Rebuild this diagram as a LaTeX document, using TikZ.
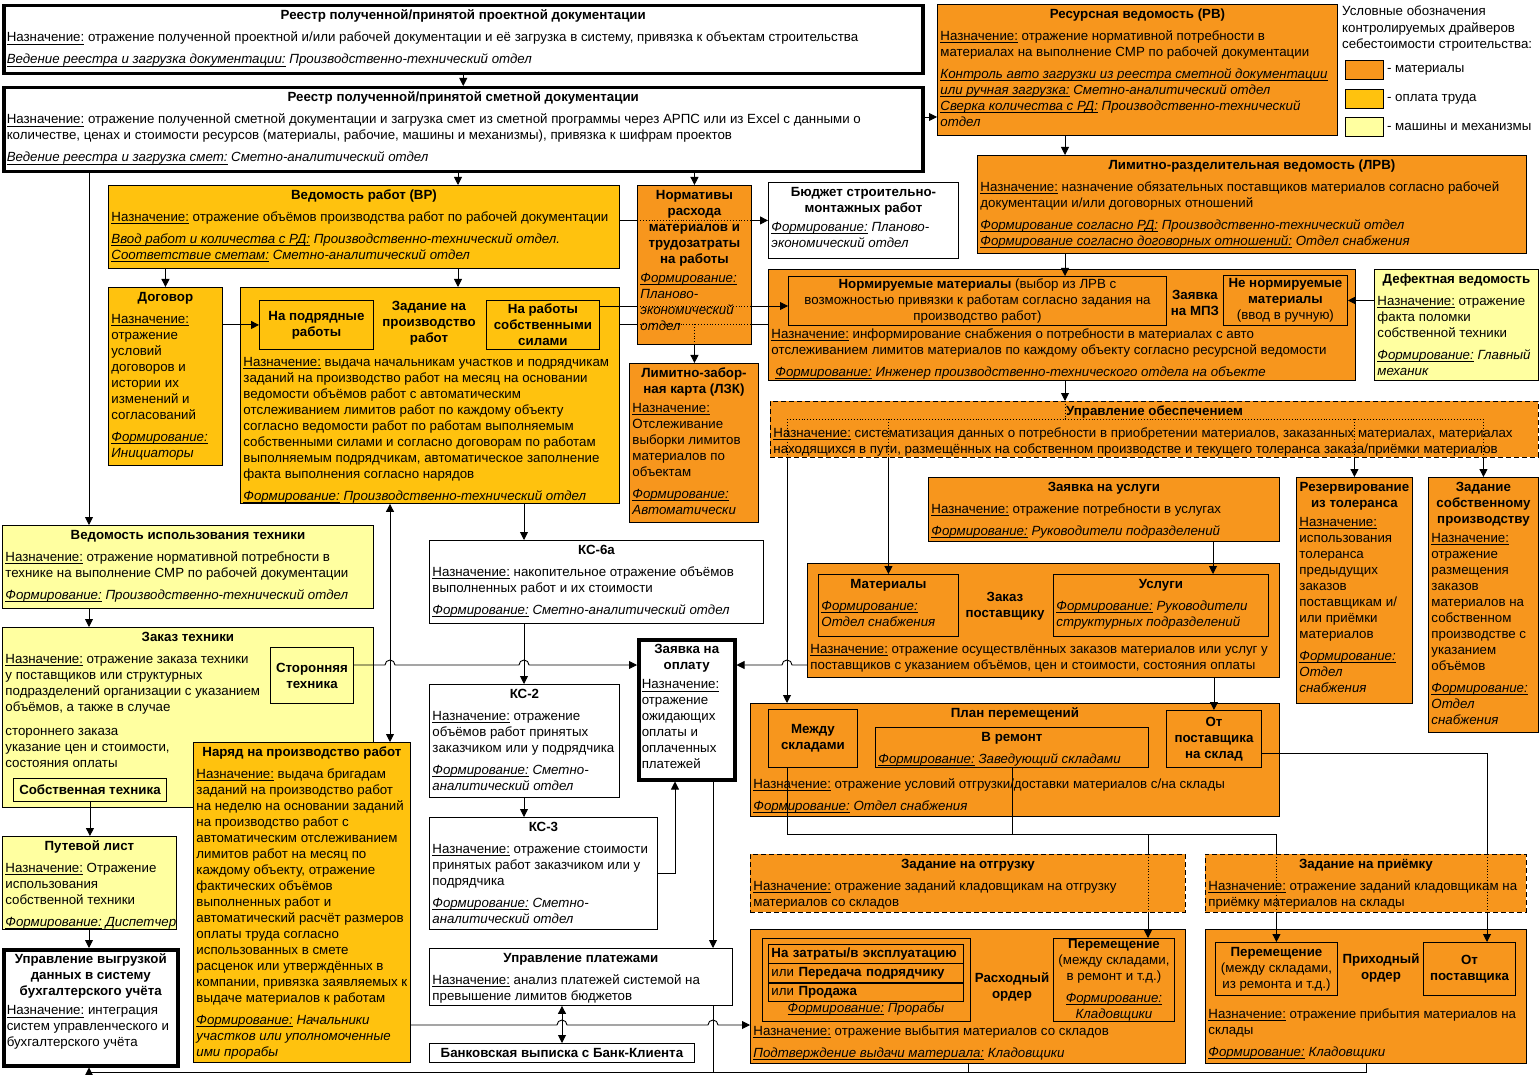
\documentclass[tikz,border=0pt]{standalone}
\usepackage{fontspec}
\setmainfont{Liberation Sans}
\usetikzlibrary{arrows.meta,calc,positioning}
\definecolor{cmat}{HTML}{F7961D}
\definecolor{cpay}{HTML}{FFC20E}
\definecolor{cmach}{HTML}{FFFFA0}
\newlength\bw
\newcommand\fs{\fontsize{13.3}{16}\selectfont}
\newcommand\ulx[1]{\leavevmode\setbox0\hbox{#1}\rlap{\rule[-2.4pt]{\wd0}{0.6pt}}\box0\relax}
\newcommand\bx[3]{\setlength\bw{\dimexpr#1pt-6pt\relax}\makebox[\bw][l]{\parbox[t][\dimexpr#2pt-6pt\relax][t]{\dimexpr\bw+40pt\relax}{\raggedright#3}}}
\newcommand\ttl[1]{\strut\parbox[t]{\bw}{\centering\bfseries#1}\par\vspace{6pt}}
\newcommand\sk{\par\vspace{6pt}}
\newcommand\nz{\ulx{Назначение:}}
\newcommand\fr[1]{{\itshape\ulx{Формирование:} #1}}
\newcommand\il[2]{{\itshape\ulx{#1} #2}}
\begin{document}
\begin{tikzpicture}[x=1pt, y=1pt, every node/.style={font=\fs},
  bx/.style={draw, line width=0.9pt, anchor=north west, inner sep=3pt},
  mat/.style={bx, fill=cmat}, pay/.style={bx, fill=cpay},
  mach/.style={bx, fill=cmach}, doc/.style={bx, fill=white},
  thk/.style={doc, line width=3.5pt},
  dsh/.style={mat, dash pattern=on 5pt off 3pt},
  sub/.style={draw, line width=0.9pt, anchor=north west, align=center, inner sep=0pt},
  subb/.style={sub, font=\fs\bfseries},
  lbl/.style={align=center, inner sep=0pt, font=\fs\bfseries},
  ln/.style={line width=0.9pt}, dot/.style={ln, dotted},
  arr/.style={ln, -{Triangle[length=8pt,width=8pt]}},
  darr/.style={ln, {Triangle[length=8pt,width=8pt]}-{Triangle[length=8pt,width=8pt]}}]

\useasboundingbox (0,0) rectangle (1540,-1075);

\path
  (89,0) coordinate (v_0)
  (458,0) coordinate (v_1)
  (1065,0) coordinate (v_2)
  (787,0) coordinate (v_3)
  (1213,0) coordinate (v_4)
  (390,0) coordinate (v_5)
  (524,0) coordinate (v_6)
  (675,0) coordinate (v_7)
  (713,0) coordinate (v_8)
  (562,0) coordinate (v_9)
  (1148,0) coordinate (v_10)
  (1487,0) coordinate (v_11)
  (0,-117) coordinate (h_1)
  (0,-306) coordinate (h_2)
  (0,-324) coordinate (h_3)
  (0,-419) coordinate (h_4)
  (0,-665) coordinate (h_5)
  (0,-1025) coordinate (h_6)
  (0,-1072) coordinate (h_7)
  (0,-834) coordinate (h_8)
  (0,-753) coordinate (h_9)
;

\node[thk] (rpd) at (2,-4) {\bx{919}{68}{\ttl{Реестр полученной/принятой проектной документации}\nz{} отражение полученной проектной и/или рабочей документации и её загрузка в систему, привязка к объектам строительства\sk\il{Ведение реестра и загрузка документации:}{Производственно-технический отдел}}};
\node[thk] (rsd) at (2,-86) {\bx{919}{84}{\ttl{Реестр полученной/принятой сметной документации}\nz{} отражение полученной сметной документации и загрузка смет из сметной программы через АРПС или из Excel с данными о\\количестве, ценах и стоимости ресурсов (материалы, рабочие, машины и механизмы), привязка к шифрам проектов\sk\il{Ведение реестра и загрузка смет:}{Сметно-аналитический отдел}}};
\node[mat] (rv) at (937,-4) {\bx{400}{131}{\ttl{Ресурсная ведомость (РВ)}\nz{} отражение нормативной потребности в\\материалах на выполнение СМР по рабочей документации\sk{\itshape\ulx{Контроль авто загрузки из реестра сметной документации}\\\ulx{или ручная загрузка:} Сметно-аналитический отдел\\\ulx{Сверка количества с РД:} Производственно-технический\\отдел}}};
\node[mat] (lrv) at (977,-155) {\bx{549}{98}{\ttl{Лимитно-разделительная ведомость (ЛРВ)}\nz{} назначение обязательных поставщиков материалов согласно рабочей\\документации и/или договорных отношений\sk\il{Формирование согласно РД:}{Производственно-технический отдел}\\\il{Формирование согласно договорных отношений:}{Отдел снабжения}}};

\node[inner sep=0pt, anchor=north west, align=left] (lg) at (1342,-6) {Условные обозначения\\[0.5pt]контролируемых драйверов\\[0.5pt]себестоимости строительства:};
\node[mat, minimum width=38pt, minimum height=19pt, inner sep=0pt] (sw_1) at (1345,-60) {};
\node[pay, minimum width=38pt, minimum height=19pt, inner sep=0pt] (sw_2) at (1345,-89) {};
\node[mach, minimum width=38pt, minimum height=19pt, inner sep=0pt] (sw_3) at (1345,-117) {};
\node[right=3pt of sw_1, inner sep=0pt] (lg_1) {- материалы};
\node[right=3pt of sw_2, inner sep=0pt] (lg_2) {- оплата труда};
\node[right=3pt of sw_3, inner sep=0pt] (lg_3) {- машины и механизмы};

\node[pay] (vr) at (108,-185) {\bx{511}{83}{\ttl{Ведомость работ (ВР)}\nz{} отражение объёмов производства работ по рабочей документации\sk\il{Ввод работ и количества с РД:}{Производственно-технический отдел.}\\\il{Соответствие сметам:}{Сметно-аналитический отдел}}};
\node[mat] (norm) at (637,-185) {\bx{114}{159}{\ttl{Нормативы\\расхода\\материалов и\\трудозатраты\\на работы}\fr{\\Планово-\\экономический\\отдел}}};
\node[doc] (bud) at (768,-182) {\bx{190}{76}{\ttl{Бюджет строительно-\\монтажных работ}\fr{Планово-\\экономический отдел}}};
\node[pay] (dog) at (108,-287) {\bx{114}{178}{\ttl{Договор}\nz\\отражение\\условий\\договоров и\\истории их\\изменений и\\согласований\sk\fr{\\Инициаторы}}};
\node[pay] (zpr) at (240,-287) {\bx{379}{216}{\vspace*{64.8pt}\strut\nz{} выдача начальникам участков и подрядчикам\\заданий на производство работ на месяц на основании\\ведомости объёмов работ с автоматическим\\отслеживанием лимитов работ по каждому объекту\\согласно ведомости работ по работам выполняемым\\собственными силами и согласно договорам по работам\\выполняемым подрядчикам, автоматическое заполнение\\факта выполнения согласно нарядов\sk\fr{Производственно-технический отдел}}};
\node[subb, minimum width=114pt, minimum height=49pt] (zp1) at (259,-300) {На подрядные\\работы};
\node[subb, minimum width=113pt, minimum height=49pt] (zp2) at (486,-300) {На работы\\собственными\\силами};
\node[lbl] (lzp) at (429,-323) {Задание на\\производство\\работ};

\node[mat] (mpz) at (768,-269) {\bx{587}{111}{\vspace*{54.8pt}\strut\nz{} информирование снабжения о потребности в материалах с авто\\отслеживанием лимитов материалов по каждому объекту согласно ресурсной ведомости\sk\hspace*{4pt}\fr{Инженер производственно-технического отдела на объекте}}};
\node[sub, minimum width=378pt, minimum height=49pt] (nm) at (788,-276) {\textbf{Нормируемые материалы} (выбор из ЛРВ с\\возможностью привязки к работам согласно задания на\\производство работ)};
\node[sub, minimum width=124pt, minimum height=50pt] (nn) at (1223,-275) {\textbf{Не нормируемые}\\\textbf{материалы}\\(ввод в ручную)};
\node[lbl] (lmpz) at (1195,-303) {Заявка\\на МПЗ};
\node[mach] (def) at (1374,-269) {\bx{164}{111}{\ttl{Дефектная ведомость}\nz{} отражение\\факта поломки\\собственной техники\sk\fr{Главный\\механик}}};
\node[mat] (lzk) at (629,-363) {\bx{129}{159}{\ttl{Лимитно-забор-\\ная карта (ЛЗК)}\nz\\Отслеживание\\выборки лимитов\\материалов по\\объектам\sk\fr{\\Автоматически}}};
\node[dsh] (uob) at (770,-401) {\bx{768}{56}{\ttl{Управление обеспечением}\nz{} систематизация данных о потребности в приобретении материалов, заказанных материалах, материалах\\находящихся в пути, размещённых на собственном производстве и текущего толеранса заказа/приёмки материалов}};

\node[mach] (vit) at (2,-525) {\bx{371}{83}{\ttl{Ведомость использования техники}\nz{} отражение нормативной потребности в\\технике на выполнение СМР по рабочей документации\sk\fr{Производственно-технический отдел}}};
\node[mach] (zt) at (2,-627) {\bx{371}{180}{\ttl{Заказ техники}\nz{} отражение заказа техники\\у поставщиков или структурных\\подразделений организации с указанием\\объёмов, а также в случае\par\vspace{8pt}стороннего заказа\\указание цен и стоимости,\\состояния оплаты}};
\node[subb, minimum width=83pt, minimum height=56pt] (st) at (270,-647) {Сторонняя\\техника};
\node[subb, minimum width=153pt, minimum height=23pt] (sob) at (13,-778) {Собственная техника};
\node[mach] (pl) at (2,-836) {\bx{174}{93}{\ttl{Путевой лист}\nz{} Отражение\\использования\\собственной техники\sk\fr{Диспетчер}}};
\node[thk] (uvg) at (2,-948) {\bx{174}{116}{\ttl{Управление выгрузкой\\данных в систему\\бухгалтерского учёта}\nz{} интеграция\\систем управленческого и\\бухгалтерского учёта}};
\node[pay] (nar) at (193,-742) {\bx{217}{320}{\ttl{Наряд на производство работ}\nz{} выдача бригадам\\заданий на производство работ\\на неделю на основании заданий\\на производство работ с\\автоматическим отслеживанием\\лимитов работ на месяц по\\каждому объекту, отражение\\фактических объёмов\\выполненных работ и\\автоматический расчёт размеров\\оплаты труда согласно\\использованных в смете\\расценок или утверждённых в\\компании, привязка заявляемых к\\выдаче материалов к работам\sk\fr{Начальники\\участков или уполномоченные\\ими прорабы}}};

\node[doc] (ks6) at (429,-540) {\bx{334}{83}{\ttl{КС-6а}\nz{} накопительное отражение объёмов\\выполненных работ и их стоимости\sk\fr{Сметно-аналитический отдел}}};
\node[thk] (zo) at (637,-638) {\bx{96}{140}{\ttl{Заявка на\\оплату}\nz\\отражение\\ожидающих\\оплаты и\\оплаченных\\платежей}};
\node[doc] (ks2) at (429,-684) {\bx{190}{113}{\ttl{КС-2}\nz{} отражение\\объёмов работ принятых\\заказчиком или у подрядчика\sk\fr{Сметно-\\аналитический отдел}}};
\node[doc] (ks3) at (429,-817) {\bx{228}{112}{\ttl{КС-3}\nz{} отражение стоимости\\принятых работ заказчиком или у\\подрядчика\sk\fr{Сметно-\\аналитический отдел}}};
\node[doc] (upl) at (429,-948) {\bx{303}{57}{\ttl{Управление платежами}\nz{} анализ платежей системой на\\превышение лимитов бюджетов}};
\node[subb, fill=white, minimum width=265pt, minimum height=19pt] (bank) at (429,-1043) {Банковская выписка с Банк-Клиента};

\node[mat] (zu) at (928,-477) {\bx{351}{64}{\ttl{Заявка на услуги}\nz{} отражение потребности в услугах\sk\fr{Руководители подразделений}}};
\node[mat] (zps) at (807,-563) {\bx{472}{114}{\vspace*{75.8pt}\strut\nz{} отражение осуществлённых заказов материалов или услуг у\\поставщиков с указанием объёмов, цен и стоимости, состояния оплаты}};
\node[bx] (zm) at (818,-574) {\bx{140}{62}{\ttl{Материалы}\fr{\\Отдел снабжения}}};
\node[bx] (zus) at (1053,-574) {\bx{215}{62}{\ttl{Услуги}\fr{Руководители\\структурных подразделений}}};
\node[lbl] (lzps) at (1005,-606) {Заказ\\поставщику};
\node[mat] (rez) at (1296,-477) {\bx{116}{226}{\ttl{Резервирование\\из толеранса}\nz\\использования\\толеранса\\предыдущих\\заказов\\поставщикам и/\\или приёмки\\материалов\sk\fr{\\Отдел\\снабжения}}};
\node[mat] (zsp) at (1428,-477) {\bx{110}{255}{\ttl{Задание\\собственному\\производству}\nz\\отражение\\размещения\\заказов\\материалов на\\собственном\\производстве с\\указанием\\объёмов\sk\fr{\\Отдел\\снабжения}}};

\node[mat] (pp) at (750,-703) {\bx{529}{113}{\ttl{План перемещений}\vspace{49pt}\nz{} отражение условий отгрузки/доставки материалов с/на склады\sk\fr{Отдел снабжения}}};
\node[subb, minimum width=89pt, minimum height=58pt] (ms) at (768,-709) {Между\\складами};
\node[bx] (vrem) at (875,-727) {\bx{273}{40}{\ttl{В ремонт}\fr{Заведующий складами}}};
\node[subb, minimum width=95pt, minimum height=57pt] (ops) at (1166,-710) {От\\поставщика\\на склад};
\node[dsh] (zot) at (750,-854) {\bx{435}{58}{\ttl{Задание на отгрузку}\nz{} отражение заданий кладовщикам на отгрузку\\материалов со складов}};
\node[dsh] (zpm) at (1205,-854) {\bx{321}{58}{\ttl{Задание на приёмку}\nz{} отражение заданий кладовщикам на\\приёмку материалов на склады}};

\node[mat] (rord) at (750,-929) {\bx{435}{134}{\vspace*{91.8pt}\strut\nz{} отражение выбытия материалов со складов\sk\il{Подтверждение выдачи материала:}{Кладовщики}}};
\node[sub, minimum width=208pt, minimum height=83pt] (ro1) at (762,-938) {};
\node[sub, align=left, text width=189pt, inner xsep=3pt, minimum height=18.5pt] (r_1) at (768,-944) {\textbf{На затраты/в эксплуатацию}};
\node[sub, align=left, text width=189pt, inner xsep=3pt, minimum height=18.5pt] (r_2) at (r_1.south west) {или \textbf{Передача подрядчику}};
\node[sub, align=left, text width=189pt, inner xsep=3pt, minimum height=18.5pt] (r_3) at (r_2.south west) {или \textbf{Продажа}};
\node[inner sep=0pt] (rf) at (866,-1009) {\fr{Прорабы}};
\node[sub, minimum width=121pt, minimum height=83pt] (ro2) at (1053,-938) {\textbf{Перемещение}\\(между складами,\\в ремонт и т.д.)\\[6pt]{\itshape\ulx{Формирование:}}\\{\itshape Кладовщики}};
\node[lbl] (lro) at (1012,-987) {Расходный\\ордер};
\node[mat] (pord) at (1205,-929) {\bx{321}{134}{\vspace*{74.8pt}\strut\nz{} отражение прибытия материалов на\\склады\sk\fr{Кладовщики}}};
\node[sub, minimum width=122pt, minimum height=53pt] (pr1) at (1215,-942) {\textbf{Перемещение}\\(между складами,\\из ремонта и т.д.)};
\node[subb, minimum width=92pt, minimum height=53pt] (pr2) at (1423,-942) {От\\поставщика};
\node[lbl] (lpo) at (1381,-968) {Приходный\\ордер};

\draw[arr] (rpd.south) -- (rsd.north);
\draw[arr] (rsd.east |- h_1) -- (rv.west |- h_1);
\draw[arr] (rsd.south -| v_1) -- (vr.north -| v_1);
\draw[arr] (rsd.south -| norm.north) -- (norm.north);
\draw[arr] (rsd.south -| v_0) -- (vit.north -| v_0);
\draw[arr] (vr.south -| dog.north) -- (dog.north);
\draw[arr] (vr.south -| v_1) -- (zpr.north -| v_1);
\draw[arr] (dog.east |- zp1.west) -- (zp1.west);
\draw[ln] (vr.east |- bud.west) -- (norm.west |- bud.west);
\draw[dot] (norm.west |- bud.west) -- (norm.east |- bud.west);
\draw[arr] (norm.east |- bud.west) -- (bud.west);
\draw[ln] (zp2.east |- h_2) -- (norm.west |- h_2);
\draw[dot] (norm.west |- h_2) -- (norm.east |- h_2);
\draw[arr] (norm.east |- h_2) -- (nm.west |- h_2);
\draw[ln] (zpr.east |- h_3) -- (norm.west |- h_3) (norm.east |- h_3) -- (mpz.west |- h_3);
\draw[dot] (norm.west |- h_3) -- (norm.east |- h_3) (norm.south |- h_3) -- (norm.south);
\draw[arr] (norm.south) -- (lzk.north -| norm.south);

\draw[arr] (rv.south -| v_2) -- (lrv.north -| v_2);
\draw[arr] (lrv.south -| v_2) -- (nm.north -| v_2);
\draw[arr] (def.west |- nn.east) -- (nn.east);
\draw[arr] (mpz.south -| v_2) -- (uob.north -| v_2);
\draw[dot] (uob.north -| v_2) -- (v_2 |- h_4) (v_3 |- h_4) -- (zsp.north |- h_4)
  (v_3 |- h_4) -- (v_3 |- uob.south) (zm.north |- h_4) -- (zm.north |- uob.south)
  (rez.north |- h_4) -- (rez.north |- uob.south) (zsp.north |- h_4) -- (zsp.north |- uob.south);
\draw[arr] (v_3 |- uob.south) -- (v_3 |- pp.north);
\draw[arr] (zm.north |- uob.south) -- (zm.north);
\draw[arr] (rez.north |- uob.south) -- (rez.north);
\draw[arr] (zsp.north |- uob.south) -- (zsp.north);
\draw[arr] (zu.south -| v_4) -- (zus.north -| v_4);
\draw[arr] (zps.south -| ops.north) -- (ops.north);

\draw[arr] (zps.west |- h_5) -- ($(v_3 |- h_5)+(5,0)$) arc[start angle=0, end angle=180, radius=5pt] -- (zo.east |- h_5);
\draw[arr] (st.east |- h_5) -- ($(v_5 |- h_5)-(5,0)$) arc[start angle=180, end angle=0, radius=5pt]
  -- ($(v_6 |- h_5)-(5,0)$) arc[start angle=180, end angle=0, radius=5pt] -- (zo.west |- h_5);
\draw[arr] (zpr.south -| v_6) -- (ks6.north -| v_6);
\draw[arr] (ks6.south -| v_6) -- (ks2.north -| v_6);
\draw[arr] (ks2.south -| v_6) -- (ks3.north -| v_6);
\draw[arr] (ks3.east) -- (ks3.east -| v_7) -- (zo.south -| v_7);
\draw[arr] (zo.south -| v_8) -- (upl.north -| v_8);
\draw[darr] (nar.north -| v_5) -- (zpr.south -| v_5);
\draw[arr] (vit.south -| v_0) -- (zt.north -| v_0);
\draw[arr] (sob.south) -- (pl.north -| sob.south);
\draw[arr] (pl.south -| v_0) -- (uvg.north -| v_0);
\draw[darr] (upl.south -| v_9) -- (bank.north -| v_9);
\draw[arr] (nar.east |- h_6) -- ($(v_9 |- h_6)-(5,0)$) arc[start angle=180, end angle=0, radius=5pt]
  -- ($(v_8 |- h_6)-(5,0)$) arc[start angle=180, end angle=0, radius=5pt] -- (rord.west |- h_6);
\draw[arr] (pord.south) -- (pord.south |- h_7) -- (v_0 |- h_7) -- (uvg.south -| v_0);
\draw[ln] (rord.south) -- (rord.south |- h_7) (upl.south -| v_8) -- (v_8 |- h_7);

\draw[ln] (ms.south -| v_3) -- (v_3 |- h_8) -- (pr1.north |- h_8) -- (pr1.north |- zpm.north)
  (vrem.south) -- (vrem.south |- h_8) (v_10 |- h_8) -- (v_10 |- zot.north);
\draw[dot] (pr1.north |- zpm.north) -- (pr1.north |- zpm.south) (v_10 |- zot.north) -- (v_10 |- zot.south);
\draw[arr] (pr1.north |- zpm.south) -- (pr1.north);
\draw[arr] (v_10 |- zot.south) -- (v_10 |- ro2.north);
\draw[ln] (ops.east |- h_9) -- (v_11 |- h_9) -- (v_11 |- zpm.north);
\draw[dot] (v_11 |- zpm.north) -- (v_11 |- zpm.south);
\draw[arr] (v_11 |- zpm.south) -- (v_11 |- pr2.north);
\end{tikzpicture}
\end{document}
